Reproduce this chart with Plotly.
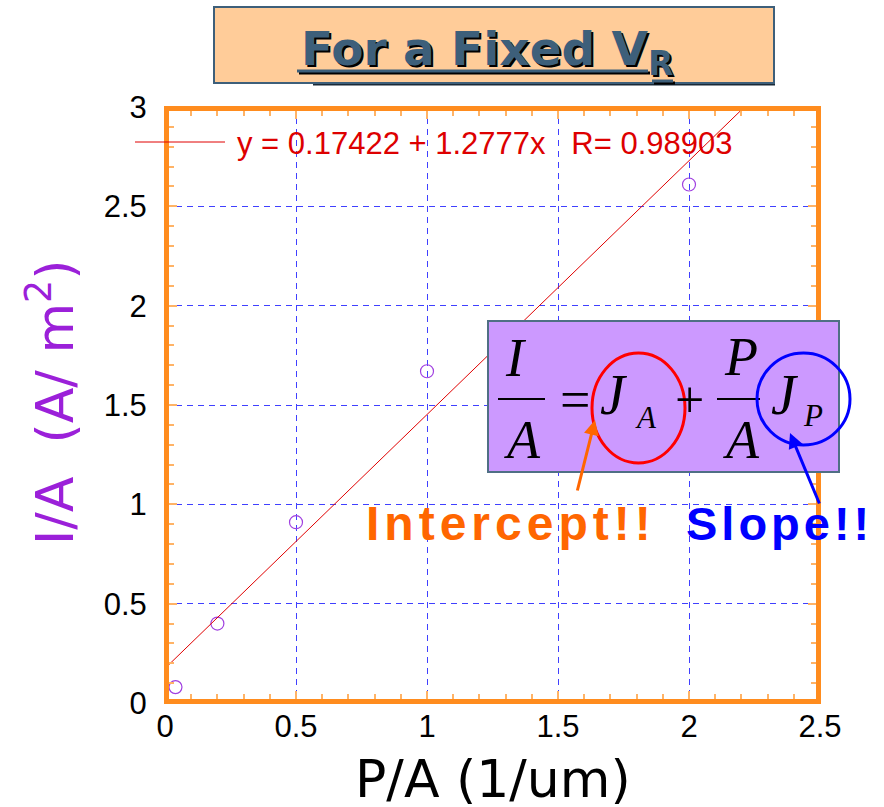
import plotly.graph_objects as go

# Measured current density versus perimeter/area ratio
pa = [0.04, 0.2, 0.5, 1.0, 2.0]
ia = [0.08, 0.40, 0.91, 1.67, 2.61]

# Linear fit  I/A = J_A + (P/A) J_P
fit_intercept = 0.17422
fit_slope = 1.2777
fit_r = 0.98903

x_ticks = [0, 0.5, 1, 1.5, 2, 2.5]
x_ticklabels = ["0", "0.5", "1", "1.5", "2", "2.5"]
y_ticks = [0, 0.5, 1, 1.5, 2, 2.5, 3]
y_ticklabels = ["0", "0.5", "1", "1.5", "2", "2.5", "3"]

W, H = 884, 807
L, R, T, B = 165, 820, 107, 703   # plot area in pixels


def px(x):
    return (x - L) / (R - L)


def py(y):
    return (B - y) / (B - T)


ORANGE = "#FF8C1E"
TICK = "#FFB366"
SLATE = "#3D5F7A"

fig = go.Figure()

fig.add_trace(go.Scatter(
    x=pa, y=ia, mode="markers",
    marker=dict(symbol="circle-open", size=13, color="#A040E0",
                line=dict(width=1.2, color="#A040E0")),
    showlegend=False, hoverinfo="skip"))

x_end = (y_ticks[-1] - fit_intercept) / fit_slope
fit_x = [0, x_end]
fit_y = [fit_intercept + fit_slope * v for v in fit_x]
fig.add_trace(go.Scatter(
    x=fit_x, y=fit_y, mode="lines",
    line=dict(color="#E00000", width=1),
    showlegend=False, hoverinfo="skip"))

axis_common = dict(
    showgrid=True, gridcolor="#4040FF", gridwidth=1, griddash="6px,5px",
    zeroline=False, showline=True, linewidth=1, linecolor=ORANGE,
    mirror="allticks", ticks="inside", ticklen=12, tickwidth=2,
    tickcolor=TICK,
    tickfont=dict(family="Liberation Sans, Arial", size=31, color="black"),
)
minor_common = dict(dtick=0.1, ticks="inside", ticklen=9, tickwidth=2,
                    tickcolor=TICK, showgrid=False)

fig.update_xaxes(range=[0, 2.5], tickvals=x_ticks, ticktext=x_ticklabels,
                 minor=minor_common, ticklabelstandoff=-4, **axis_common)
fig.update_yaxes(range=[0, 3], tickvals=y_ticks, ticktext=y_ticklabels,
                 minor=minor_common, ticklabelstandoff=11, **axis_common)

shapes = []
# thick orange frame around the plot
shapes.append(dict(type="rect", xref="x", yref="y", x0=0, x1=2.5, y0=0, y1=3,
                   line=dict(color=ORANGE, width=8), layer="above"))
# legend sample line for the fit
shapes.append(dict(type="line", xref="paper", yref="paper",
                   x0=px(135), x1=px(225), y0=py(142), y1=py(142),
                   line=dict(color="#E00000", width=1)))
# title box
shapes.append(dict(type="line", xref="paper", yref="paper",
                   x0=px(313), x1=px(775), y0=py(84.5), y1=py(84.5),
                   line=dict(color="#1A2A38", width=2)))
shapes.append(dict(type="rect", xref="paper", yref="paper",
                   x0=px(214), x1=px(774), y0=py(83), y1=py(7),
                   fillcolor="#FFCC99", line=dict(color=SLATE, width=2)))
# title underlines with drop shadow
for (x0, x1, yy) in [(297, 648, 71), (652, 673, 81)]:
    shapes.append(dict(type="line", xref="paper", yref="paper",
                       x0=px(x0 + 2), x1=px(x1 + 2), y0=py(yy + 2), y1=py(yy + 2),
                       line=dict(color="black", width=3)))
    shapes.append(dict(type="line", xref="paper", yref="paper",
                       x0=px(x0), x1=px(x1), y0=py(yy), y1=py(yy),
                       line=dict(color=SLATE, width=3)))
# equation box
shapes.append(dict(type="rect", xref="paper", yref="paper",
                   x0=px(488), x1=px(839), y0=py(472), y1=py(321),
                   fillcolor="#CC99FF", line=dict(color="#4F6F85", width=2),
                   layer="above"))
# fraction bars
for (x0, x1) in [(498, 545), (717, 760)]:
    shapes.append(dict(type="line", xref="paper", yref="paper",
                       x0=px(x0), x1=px(x1), y0=py(399), y1=py(399),
                       line=dict(color="black", width=2), layer="above"))
# highlight ellipses
shapes.append(dict(type="circle", xref="paper", yref="paper",
                   x0=px(592), x1=px(685), y0=py(463), y1=py(353),
                   line=dict(color="#FF0000", width=3), layer="above"))
shapes.append(dict(type="circle", xref="paper", yref="paper",
                   x0=px(757), x1=px(850), y0=py(445), y1=py(353),
                   line=dict(color="#0000FF", width=3), layer="above"))

ann = []


def text(xp, yp, s, size, color, family, xanchor="center", yanchor="middle",
         angle=0):
    ann.append(dict(xref="paper", yref="paper", x=px(xp), y=py(yp), text=s,
                    showarrow=False, xanchor=xanchor, yanchor=yanchor,
                    textangle=angle,
                    font=dict(size=size, color=color, family=family)))


# title with drop shadow
title_txt = "<b>For a Fixed V<sub>R</sub></b>"
text(301, 54, title_txt, 47, "black", "DejaVu Sans", xanchor="left")
text(299, 52, title_txt, 47, SLATE, "DejaVu Sans", xanchor="left")

# fit legend text
text(235, 143, "y = %.5f + %.4fx   R= %.5f" % (fit_intercept, fit_slope, fit_r),
     31, "#DD0000", "Liberation Sans, Arial", xanchor="left")

# axis titles
text(493, 779, "P/A (1/um)", 52, "black", "DejaVu Sans")
text(51, 402, "I/A  (A/ m<sup>2</sup>)", 52, "#9B20D9", "DejaVu Sans", angle=-90)

# equation  I/A = J_A + (P/A) J_P
serif = "Liberation Serif, Times New Roman"
text(516, 358, "<i>I</i>", 54, "black", serif)
text(522, 440, "<i>A</i>", 54, "black", serif)
text(575, 400, "=", 54, "black", serif)
text(614, 395, "<i>J</i>", 56, "black", serif)
text(646, 417, "<i>A</i>", 31, "black", serif)
text(689, 399, "+", 52, "black", serif)
text(741, 357, "<i>P</i>", 54, "black", serif)
text(741, 440, "<i>A</i>", 54, "black", serif)
text(785, 395, "<i>J</i>", 56, "black", serif)
text(813, 415, "<i>P</i>", 31, "black", serif)

# callout labels
text(511, 523, "<b><span style='letter-spacing:5px'>Intercept!!</span></b>",
     48, "#FF6600", "Liberation Sans, Arial")
text(779, 523, "<b><span style='letter-spacing:4px'>Slope!!</span></b>",
     47, "#0000FF", "Liberation Sans, Arial")

# callout arrows (head at x,y; tail offset in pixels)
for (hx, hy, tx, ty, col) in [(595, 420, 577, 492, "#FF6600"),
                              (790, 433, 820, 505, "#0000FF")]:
    ann.append(dict(xref="paper", yref="paper", x=px(hx), y=py(hy), text="",
                    showarrow=True, axref="pixel", ayref="pixel",
                    ax=tx - hx, ay=ty - hy, arrowhead=2, arrowsize=1,
                    arrowwidth=3, arrowcolor=col))

fig.update_layout(
    width=W, height=H,
    margin=dict(l=L, r=W - R, t=T, b=H - B, pad=0),
    plot_bgcolor="white", paper_bgcolor="white",
    shapes=shapes, annotations=ann, showlegend=False,
)

fig.write_html("out.html")
